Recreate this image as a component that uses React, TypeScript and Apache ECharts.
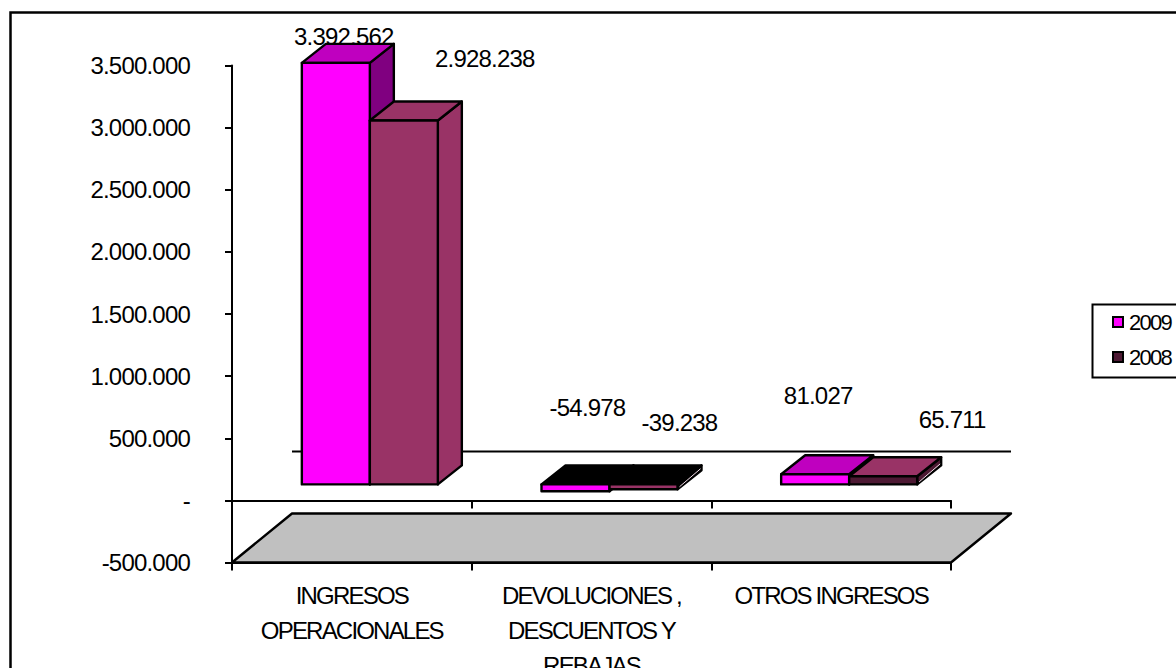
import React, { useEffect, useRef } from "react";
import * as echarts from "echarts";

const categories = ["INGRESOS\nOPERACIONALES", "DEVOLUCIONES ,\nDESCUENTOS Y\nREBAJAS", "OTROS INGRESOS"];
const seriesNames = ["2009", "2008"];
const values2009 = [3392562, -54978, 81027];
const values2008 = [2928238, -39238, 65711];

const W = 1176, H = 668;
const GRID = { left: 232, top: 65.5, width: 719, height: 497 };
const BAR_W = 68;
const BAR_SHIFT = [18, -16];
const BAR_DEPTH = [24, -19];
const WALL_DEPTH = [60, -49];

// Excel's 3-D shading, by series then category
const FACES = [
  {
    front: ["#ff00ff", "#ff00ff", "#ff00ff"],
    top: ["#bf00bf", "#000000", "#bf00bf"],
    side: ["#800080", "#000000", "#800080"],
  },
  {
    front: ["#993366", "#993366", "#4d1933"],
    top: ["#993366", "#000000", "#993366"],
    side: ["#993366", "#000000", "#4d1933"],
  },
];
// Hand-placed data labels, relative to the top-centre of each bar's front face
const LABEL_OFFSET = [
  [[8, -26], [12, -77], [3, -79]],
  [[81, -62], [36, -62], [69, -57]],
];

const fmt = (v: number) => {
  const s = Math.abs(Math.round(v)).toString().replace(/\B(?=(\d{3})+(?!\d))/g, ".");
  return v < 0 ? "-" + s : s;
};
const FONT = '"Liberation Sans", Arial, sans-serif';
const stroke = { stroke: "#000", lineWidth: 2.4, lineJoin: "round" as const };

function barRender(seriesIndex: number) {
  return (params: any, api: any) => {
    const cat = api.value(0);
    const val = api.value(1);
    const cx = api.coord([cat, 0])[0];
    const y0 = api.coord([cat, 0])[1] + BAR_SHIFT[1];
    const yv = api.coord([cat, val])[1] + BAR_SHIFT[1];
    const xc = cx + BAR_SHIFT[0];
    const x0 = seriesIndex === 0 ? xc - BAR_W : xc;
    const x1 = x0 + BAR_W;
    const top = Math.min(y0, yv), bot = Math.max(y0, yv);
    const [dx, dy] = BAR_DEPTH;
    const f = FACES[seriesIndex];
    const [ox, oy] = LABEL_OFFSET[seriesIndex][cat];
    const thinRightmost = seriesIndex === 1 && bot - top < 15;
    const children: any[] = [
      { type: "polygon", shape: { points: [[x1, top], [x1 + dx, top + dy], [x1 + dx, bot + dy], [x1, bot]] }, style: { fill: f.side[cat], ...stroke } },
    ];
    if (thinRightmost) {
      children.push({
        type: "line",
        shape: { x1: x1 + 2, y1: bot - 2.5, x2: x1 + dx - 1, y2: bot + dy - 1.5 },
        style: { stroke: "#f3dfe9", lineWidth: 1 },
      });
    }
    children.push(
      { type: "polygon", shape: { points: [[x0, top], [x0 + dx, top + dy], [x1 + dx, top + dy], [x1, top]] }, style: { fill: f.top[cat], ...stroke } },
      { type: "rect", shape: { x: x0, y: top, width: BAR_W, height: bot - top }, style: { fill: f.front[cat], ...stroke } },
      {
        type: "text",
        x: (x0 + x1) / 2 + ox,
        y: top + oy,
        style: { text: fmt(val), fill: "#000", font: `24px ${FONT}`, align: "center", verticalAlign: "middle" },
      }
    );
    return { type: "group", children };
  };
}

function floorRender(params: any, api: any) {
  const cs = params.coordSys;
  const [dx, dy] = WALL_DEPTH;
  const yB = cs.y + cs.height;
  const y0 = api.coord([0, 0])[1];
  const xL = cs.x, xR = cs.x + cs.width;
  return {
    type: "group",
    children: [
      { type: "polygon", shape: { points: [[xL, yB], [xL + dx, yB + dy], [xR + dx, yB + dy], [xR, yB]] }, style: { fill: "#c0c0c0", ...stroke } },
      { type: "line", shape: { x1: xL + dx, y1: y0 + dy, x2: xR + dx, y2: y0 + dy }, style: { stroke: "#000", lineWidth: 2 } },
    ],
  };
}

export default function App() {
  const ref = useRef<HTMLDivElement>(null);
  useEffect(() => {
    document.body.style.margin = "0";
    const chart = echarts.init(ref.current!, undefined, { renderer: "svg" });
    const axisLine = { lineStyle: { color: "#000", width: 2 } };
    const axisTick = { show: true, interval: 0, length: 8, lineStyle: { color: "#000", width: 2 } };
    chart.setOption({
      animation: false,
      backgroundColor: "#fff",
      grid: { left: GRID.left, top: GRID.top, width: GRID.width, height: GRID.height, outerBoundsMode: "none" },
      legend: {
        left: 1112,
        top: 309,
        orient: "vertical",
        itemWidth: 10,
        itemHeight: 10,
        itemGap: 9,
        padding: 0,
        textStyle: { fontFamily: FONT, fontSize: 22, lineHeight: 20, color: "#000", padding: [6, 0, 0, 1] },
        data: [
          { name: seriesNames[0], icon: "rect", itemStyle: { color: "#ff00ff", borderColor: "#000", borderWidth: 2 } },
          { name: seriesNames[1], icon: "rect", itemStyle: { color: "#4d1933", borderColor: "#000", borderWidth: 2 } },
        ],
      },
      xAxis: [
        {
          type: "category",
          data: categories,
          position: "bottom",
          axisLine: { ...axisLine, onZero: false },
          axisTick,
          axisLabel: { fontFamily: FONT, fontSize: 24, color: "#000", lineHeight: 35, margin: 15, interval: 0 },
        },
        {
          type: "category",
          data: categories,
          position: "bottom",
          axisLine: { ...axisLine, onZero: true },
          axisTick,
          axisLabel: { show: false },
        },
      ],
      yAxis: {
        type: "value",
        min: -500000,
        max: 3500000,
        interval: 500000,
        axisLine: { show: true, ...axisLine },
        axisTick: { show: true, length: 7, lineStyle: { color: "#000", width: 2 } },
        splitLine: { show: false },
        axisLabel: {
          fontFamily: FONT,
          fontSize: 24,
          color: "#000",
          margin: 42,
          align: "right",
          formatter: (v: number) => (v === 0 ? "-" : fmt(v)),
        },
      },
      series: [
        {
          type: "custom",
          name: "floor",
          silent: true,
          z: 1,
          clip: false,
          renderItem: floorRender,
          data: [[0, 0]],
          encode: { x: 0, y: 1 },
        },
        {
          type: "custom",
          name: seriesNames[0],
          z: 2,
          clip: false,
          itemStyle: { color: "#ff00ff" },
          renderItem: barRender(0),
          data: values2009.map((v, i) => [i, v]),
          encode: { x: 0, y: 1 },
        },
        {
          type: "custom",
          name: seriesNames[1],
          z: 3,
          clip: false,
          itemStyle: { color: "#4d1933" },
          renderItem: barRender(1),
          data: values2008.map((v, i) => [i, v]),
          encode: { x: 0, y: 1 },
        },
      ],
      graphic: [
        {
          type: "rect",
          silent: true,
          z: 0,
          shape: { x: 10.5, y: 12.5, width: 1200, height: 700 },
          style: { fill: "none", stroke: "#000", lineWidth: 2.5 },
        },
        {
          type: "rect",
          silent: true,
          z: 0,
          shape: { x: 1092.5, y: 304.5, width: 120, height: 73 },
          style: { fill: "#fff", stroke: "#000", lineWidth: 2 },
        },
      ],
    });
    // Excel's text is tightly tracked here; narrow it to the reference's widths
    const tighten = () => {
      ref.current?.querySelectorAll("text").forEach((t) => {
        const s = t.textContent || "";
        const el = t as any;
        if (/[A-Z]/.test(s)) el.style.letterSpacing = "-1.8px";
        else if (s === "2009" || s === "2008") el.style.letterSpacing = "-1.7px";
        else el.style.letterSpacing = "-0.8px";
      });
    };
    tighten();
    chart.on("finished", tighten);
    return () => chart.dispose();
  }, []);
  return <div ref={ref} style={{ width: W, height: H, overflow: "hidden" }} />;
}
